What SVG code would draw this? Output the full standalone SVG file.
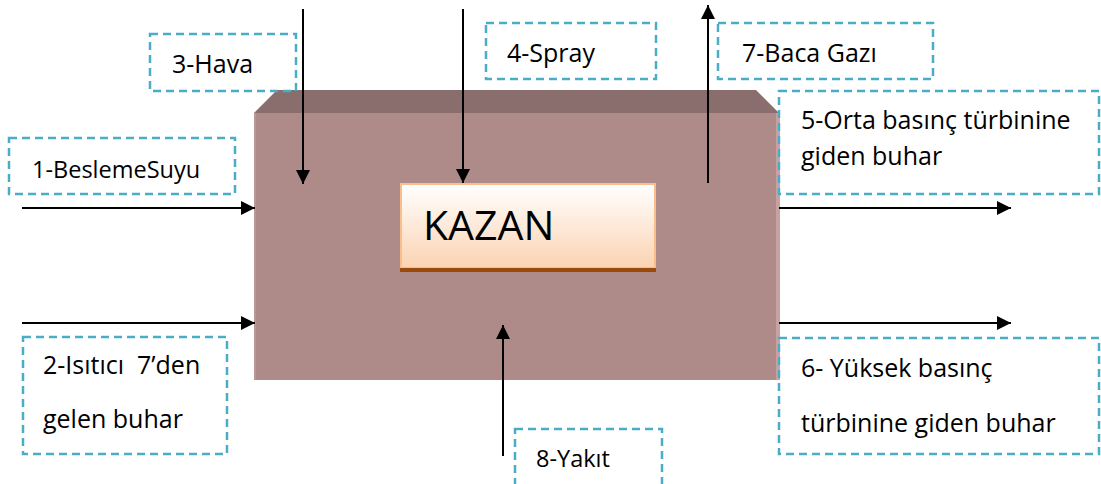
<svg xmlns="http://www.w3.org/2000/svg" width="1101" height="484" viewBox="0 0 1101 484">
  <style>
    .lbl { fill: none; stroke: #4BACC6; stroke-width: 2.5; stroke-dasharray: 8 5; }
    .t { font-family: "Open Sans", "Noto Sans", "DejaVu Sans", sans-serif; font-size: 25px; fill: #000; }
    .ts { font-size: 23.5px; }
    .conn { stroke: #000; stroke-width: 2; fill: none; marker-end: url(#ah); }
  </style>
  <defs>
    <marker id="ah" markerUnits="userSpaceOnUse" markerWidth="14" markerHeight="14" refX="14" refY="7" orient="auto">
      <path d="M0,0 L14,7 L0,14 Z" fill="#000"/>
    </marker>
    <linearGradient id="kg" x1="0" y1="0" x2="0" y2="1">
      <stop offset="0" stop-color="#FFFFFF"/>
      <stop offset="1" stop-color="#FBD3B2"/>
    </linearGradient>
  </defs>
  <rect width="1101" height="484" fill="#FFFFFF"/>

  <g id="kazan-block">
    <polygon points="254,113 277,90 756,90 779,113" fill="#8A6E6D"/>
    <rect x="254" y="113" width="525" height="267" fill="#AE8B89"/>
    <rect x="776" y="113" width="4" height="267" fill="#C8A2A0"/>
    <rect x="254" y="113" width="2" height="267" fill="#B99795"/>
  </g>

  <g id="kazan">
    <rect x="401" y="184" width="254" height="84" fill="url(#kg)" stroke="#F9BE8C" stroke-width="2"/>
    <rect x="400" y="268" width="256" height="4" fill="#9A4A0A"/>
    <text class="t" x="423" y="240" style="font-size:41px">KAZAN</text>
  </g>

  <g id="label-1">
    <rect class="lbl" x="9" y="138" width="226" height="56"/>
    <text class="t ts" x="32" y="178">1-BeslemeSuyu</text>
  </g>
  <g id="label-2">
    <rect class="lbl" x="23" y="337" width="204" height="117"/>
    <text class="t" x="43" y="374" xml:space="preserve">2-Isıtıcı  7’den</text>
    <text class="t" x="43" y="428">gelen buhar</text>
  </g>
  <g id="label-3">
    <rect class="lbl" x="150" y="34" width="146" height="57"/>
    <text class="t" x="172" y="73">3-Hava</text>
  </g>
  <g id="label-4">
    <rect class="lbl" x="486" y="23" width="170" height="56"/>
    <text class="t" x="507" y="62">4-Spray</text>
  </g>
  <g id="label-7">
    <rect class="lbl" x="718" y="23" width="215" height="56"/>
    <text class="t" x="742" y="62">7-Baca Gazı</text>
  </g>
  <g id="label-5">
    <rect class="lbl" x="779" y="91" width="320" height="103"/>
    <text class="t" x="801" y="129">5-Orta basınç türbinine</text>
    <text class="t" x="801" y="165">giden buhar</text>
  </g>
  <g id="label-6">
    <rect class="lbl" x="779" y="338" width="320" height="116"/>
    <text class="t" x="801" y="377">6- Yüksek basınç</text>
    <text class="t" x="801" y="432">türbinine giden buhar</text>
  </g>
  <g id="label-8">
    <rect class="lbl" x="515" y="429" width="147" height="70"/>
    <text class="t ts" x="536" y="467">8-Yakıt</text>
  </g>

  <g id="connectors">
    <line class="conn" x1="22" y1="208" x2="255" y2="208"/>
    <line class="conn" x1="22" y1="323" x2="255" y2="323"/>
    <line class="conn" x1="303" y1="9" x2="303" y2="184"/>
    <line class="conn" x1="463" y1="9" x2="463" y2="183"/>
    <line class="conn" x1="708" y1="183" x2="708" y2="5"/>
    <line class="conn" x1="779" y1="208" x2="1011" y2="208"/>
    <line class="conn" x1="779" y1="323" x2="1011" y2="323"/>
    <line class="conn" x1="503" y1="456" x2="503" y2="325"/>
  </g>
</svg>
